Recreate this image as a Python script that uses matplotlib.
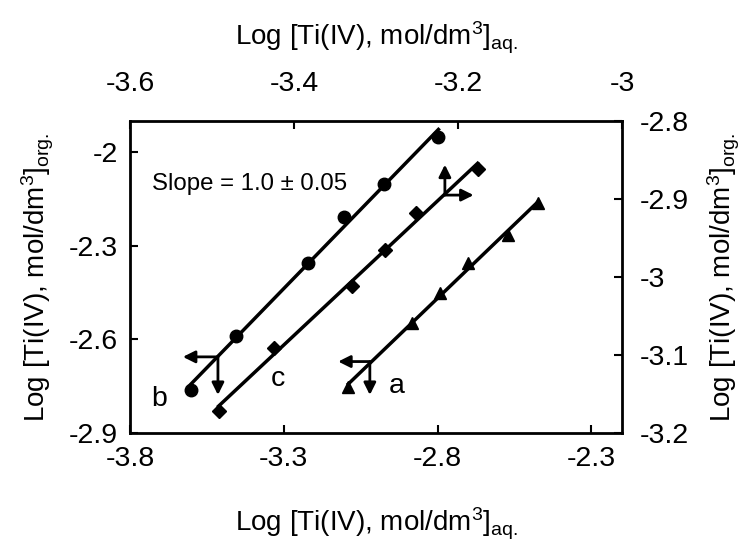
import numpy as np
import matplotlib
matplotlib.use("Agg")
import matplotlib.pyplot as plt

plt.rcParams['font.family'] = ['Liberation Sans', 'DejaVu Sans']
plt.rcParams['mathtext.fontset'] = 'custom'
plt.rcParams['mathtext.rm'] = 'Liberation Sans'
plt.rcParams['mathtext.it'] = 'Liberation Sans:italic'

# Series b (circles): bottom / left axes
b_x = [-3.603, -3.455, -3.220, -3.103, -2.974, -2.797]
b_y = [-2.762, -2.588, -2.356, -2.207, -2.103, -1.950]
# Series a (triangles): bottom / left axes
a_x = [-3.090, -2.884, -2.792, -2.700, -2.572, -2.472]
a_y = [-2.754, -2.546, -2.450, -2.356, -2.265, -2.164]
# Series c (diamonds): top / right axes
c_x = [-3.492, -3.425, -3.329, -3.289, -3.251, -3.176]
c_y = [-3.172, -3.091, -3.011, -2.965, -2.918, -2.861]

bottom_ticks = [-3.8, -3.3, -2.8, -2.3]
bottom_labels = ['-3.8', '-3.3', '-2.8', '-2.3']
left_ticks = [-2.9, -2.6, -2.3, -2.0]
left_labels = ['-2.9', '-2.6', '-2.3', '-2']
top_ticks = [-3.6, -3.4, -3.2, -3.0]
top_labels = ['-3.6', '-3.4', '-3.2', '-3']
right_ticks = [-3.2, -3.1, -3.0, -2.9, -2.8]
right_labels = ['-3.2', '-3.1', '-3', '-2.9', '-2.8']

label_aq = r'Log [Ti(IV), mol/dm$^{3}$]$_{\mathrm{aq.}}$'
label_org = r'Log [Ti(IV), mol/dm$^{3}$]$_{\mathrm{org.}}$'

fig = plt.figure(figsize=(7.44, 5.45), dpi=100)
pos = [130/744, 1-433/545, 492/744, 312/545]
ax = fig.add_axes(pos)
ax2 = fig.add_axes(pos, frameon=False)

TFS = 20.5
LFS = 20
ax.set_xlim(-3.8, -2.2)
ax.set_ylim(-2.9, -1.9)
ax2.set_xlim(-3.6, -3.0)
ax2.set_ylim(-3.2, -2.8)

ax.set_xticks(bottom_ticks, bottom_labels)
ax.set_yticks(left_ticks, left_labels)
ax2.xaxis.tick_top()
ax2.yaxis.tick_right()
ax2.xaxis.set_label_position('top')
ax2.yaxis.set_label_position('right')
ax2.set_xticks(top_ticks, top_labels)
ax2.set_yticks(right_ticks, right_labels)

ax.tick_params(direction='in', length=6, width=1.5, labelsize=TFS)
ax.tick_params(axis='x', pad=9)
ax.tick_params(axis='y', pad=9)
ax2.tick_params(direction='in', length=6, width=1.5, labelsize=TFS)
ax2.tick_params(axis='x', pad=17)
ax2.tick_params(axis='y', pad=13)
for s in ax.spines.values():
    s.set_linewidth(2)

ax.set_xlabel(label_aq, fontsize=LFS, labelpad=25)
ax.set_ylabel(label_org, fontsize=LFS, labelpad=9)
ax2.set_xlabel(label_aq, fontsize=LFS, labelpad=19)
ax2.set_ylabel(label_org, fontsize=LFS, labelpad=12)

LW = 2.5
MS = 9

def fitline(axis, xs, ys):
    k, c0 = np.polyfit(xs, ys, 1)
    xx = np.array([min(xs), max(xs)])
    axis.plot(xx, k*xx + c0, color='black', lw=LW, zorder=2)

fitline(ax, b_x, b_y)
fitline(ax, a_x, a_y)
fitline(ax2, c_x, c_y)
ax.plot(b_x, b_y, 'o', color='black', ms=MS, zorder=3)
ax.plot(a_x, a_y, '^', color='black', ms=MS, zorder=3)
ax2.plot(c_x, c_y, 'D', color='black', ms=MS-1.5, zorder=3)

arr = dict(arrowstyle='-|>', color='black', lw=2, mutation_scale=18, shrinkA=0, shrinkB=0)
# b arrows (left / down)
ax.annotate('', xy=(-3.628, -2.656), xytext=(-3.514, -2.656), arrowprops=arr)
ax.annotate('', xy=(-3.514, -2.778), xytext=(-3.514, -2.656), arrowprops=arr)
# a arrows (left / down)
ax.annotate('', xy=(-3.123, -2.671), xytext=(-3.020, -2.671), arrowprops=arr)
ax.annotate('', xy=(-3.020, -2.778), xytext=(-3.020, -2.671), arrowprops=arr)
# c arrows (up / right)
ax2.annotate('', xy=(-3.216, -2.856), xytext=(-3.216, -2.895), arrowprops=arr)
ax2.annotate('', xy=(-3.181, -2.895), xytext=(-3.216, -2.895), arrowprops=arr)

ax.text(-3.705, -2.791, 'b', fontsize=TFS, ha='center', va='center')
ax.text(-3.318, -2.727, 'c', fontsize=TFS, ha='center', va='center')
ax.text(-2.932, -2.750, 'a', fontsize=TFS, ha='center', va='center')
ax.text(-3.730, -2.102, 'Slope = 1.0 ± 0.05', fontsize=17.3, ha='left', va='center')

fig.savefig('out.png', dpi=100)
